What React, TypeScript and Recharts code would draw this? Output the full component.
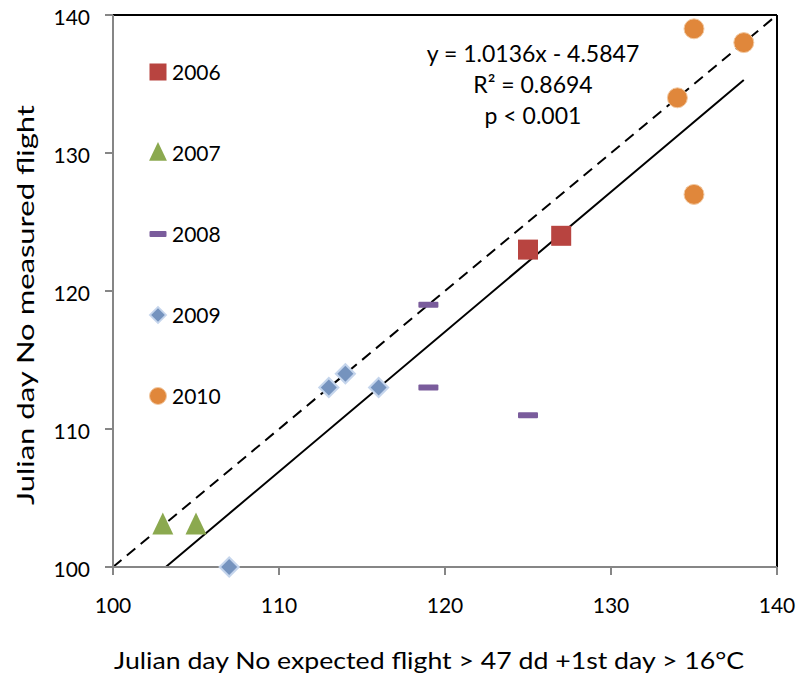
import React from 'react';
import {
  ScatterChart,
  Scatter,
  XAxis,
  YAxis,
  ReferenceLine,
} from 'recharts';

// observed points per year: expected day (x) vs measured day (y)
const data2006 = [
  { x: 125, y: 123 },
  { x: 127, y: 124 },
];
const data2007 = [
  { x: 103, y: 103 },
  { x: 105, y: 103 },
];
const data2008 = [
  { x: 119, y: 119 },
  { x: 119, y: 113 },
  { x: 125, y: 111 },
];
const data2009 = [
  { x: 113, y: 113 },
  { x: 114, y: 114 },
  { x: 116, y: 113 },
  { x: 107, y: 100 },
];
const data2010 = [
  { x: 135, y: 139 },
  { x: 138, y: 138 },
  { x: 134, y: 134 },
  { x: 135, y: 127 },
];

const ticks = [100, 110, 120, 130, 140];
const slope = 1.0136;
const intercept = -4.5847;
const fitX = [(100 - intercept) / slope, 138];
const statLines = ['y = 1.0136x - 4.5847', 'R² = 0.8694', 'p < 0.001'];

const FONT = 'Lato, "Open Sans", sans-serif';

const colors = {
  y2006: '#B84440',
  y2007: '#8BA94F',
  y2008: '#7A5C9C',
  y2009: '#7593BE',
  y2010: '#E0873B',
};

// marker shapes, s = scale (legend markers are a bit smaller)
const Square = ({ cx, cy, s = 1 }: any) => (
  <rect x={cx - 10 * s} y={cy - 10 * s} width={20 * s} height={20 * s} fill={colors.y2006} />
);
const Triangle = ({ cx, cy, s = 1 }: any) => (
  <polygon
    points={`${cx},${cy - 13 * s} ${cx + 10.5 * s},${cy + 9 * s} ${cx - 10.5 * s},${cy + 9 * s}`}
    fill={colors.y2007}
  />
);
const Dash = ({ cx, cy, s = 1 }: any) => (
  <rect x={cx - 10 * s} y={cy - 3} width={20 * s} height={6} rx={1} fill={colors.y2008} />
);
const Diamond = ({ cx, cy, s = 1 }: any) => (
  <g>
    <polygon
      points={`${cx},${cy - 11 * s} ${cx + 11 * s},${cy} ${cx},${cy + 11 * s} ${cx - 11 * s},${cy}`}
      fill="#C5D5EC"
    />
    <polygon
      points={`${cx},${cy - 8 * s} ${cx + 8 * s},${cy} ${cx},${cy + 8 * s} ${cx - 8 * s},${cy}`}
      fill={colors.y2009}
    />
  </g>
);
const Circle = ({ cx, cy, s = 1 }: any) => (
  <circle cx={cx} cy={cy} r={10 * s} fill={colors.y2010} stroke="#F2C9A2" strokeWidth={1} />
);

const legendItems = [
  { name: '2006', Shape: Square },
  { name: '2007', Shape: Triangle },
  { name: '2008', Shape: Dash },
  { name: '2009', Shape: Diamond },
  { name: '2010', Shape: Circle },
];

const YearLegend = () => (
  <div
    style={{
      position: 'absolute',
      left: 146,
      top: 31,
      fontFamily: FONT,
      fontSize: 21,
      color: '#000',
    }}
  >
    {legendItems.map(({ name, Shape }) => (
      <div key={name} style={{ display: 'flex', alignItems: 'center', height: 81 }}>
        <svg width={24} height={24} style={{ marginRight: 2 }}>
          <Shape cx={12} cy={12} s={0.85} />
        </svg>
        <span>{name}</span>
      </div>
    ))}
  </div>
);

const XTick = ({ x, y, payload }: any) => (
  <text x={x} y={y + 36} textAnchor="middle" fontFamily={FONT} fontSize={21} fill="#000">
    {payload.value}
  </text>
);
const YTick = ({ x, y, payload }: any) => (
  <text x={x - 13} y={y + 10} textAnchor="end" fontFamily={FONT} fontSize={21} fill="#000">
    {payload.value}
  </text>
);

const App = () => {
  return (
    <div style={{ position: 'absolute', left: 0, top: 0, background: '#fff' }}>
      <ScatterChart
        width={802}
        height={682}
        margin={{ top: 15, right: 25, left: 0, bottom: 0 }}
      >
        <XAxis
          type="number"
          dataKey="x"
          domain={[100, 140]}
          ticks={ticks}
          height={115}
          stroke="#868686"
          strokeWidth={2}
          tickSize={8}
          tick={<XTick />}
          label={() => (
            <text
              x={429}
              y={669}
              textAnchor="middle"
              fontFamily={FONT}
              fontSize={23}
              textLength={630}
              lengthAdjust="spacingAndGlyphs"
              fill="#000"
            >
              Julian day No expected flight &gt; 47 dd +1st day &gt; 16°C
            </text>
          )}
        />
        <YAxis
          type="number"
          dataKey="y"
          domain={[100, 140]}
          ticks={ticks}
          width={113}
          stroke="#868686"
          strokeWidth={2}
          tickSize={8}
          tick={<YTick />}
          label={() => {
            const cx = 34;
            const cy = 305;
            return (
              <text
                x={cx}
                y={cy}
                transform={`rotate(-90 ${cx} ${cy})`}
                textAnchor="middle"
                fontFamily={FONT}
                fontSize={24}
                textLength={400}
                lengthAdjust="spacingAndGlyphs"
                fill="#000"
              >
                Julian day No measured flight
              </text>
            );
          }}
        />
        <ReferenceLine y={140} stroke="#000" strokeWidth={2} />
        <ReferenceLine x={140} stroke="#000" strokeWidth={2} />
        <ReferenceLine
          segment={[
            { x: 100, y: 100 },
            { x: 140, y: 140 },
          ]}
          stroke="#000"
          strokeWidth={2}
          strokeDasharray="11 7"
        />
        <ReferenceLine
          segment={[
            { x: fitX[0], y: slope * fitX[0] + intercept },
            { x: fitX[1], y: slope * fitX[1] + intercept },
          ]}
          stroke="#000"
          strokeWidth={2}
        />
        <Scatter data={data2006} shape={<Square />} isAnimationActive={false} />
        <Scatter data={data2007} shape={<Triangle />} isAnimationActive={false} />
        <Scatter data={data2008} shape={<Dash />} isAnimationActive={false} />
        <Scatter data={data2009} shape={<Diamond />} isAnimationActive={false} />
        <Scatter data={data2010} shape={<Circle />} isAnimationActive={false} />
        <text
          x={533}
          textAnchor="middle"
          fontFamily={FONT}
          fontSize={23}
          fill="#000"
        >
          {statLines.map((s, i) => (
            <tspan key={s} x={533} y={62 + i * 31}>
              {s}
            </tspan>
          ))}
        </text>
      </ScatterChart>
      <YearLegend />
    </div>
  );
};

export default App;
